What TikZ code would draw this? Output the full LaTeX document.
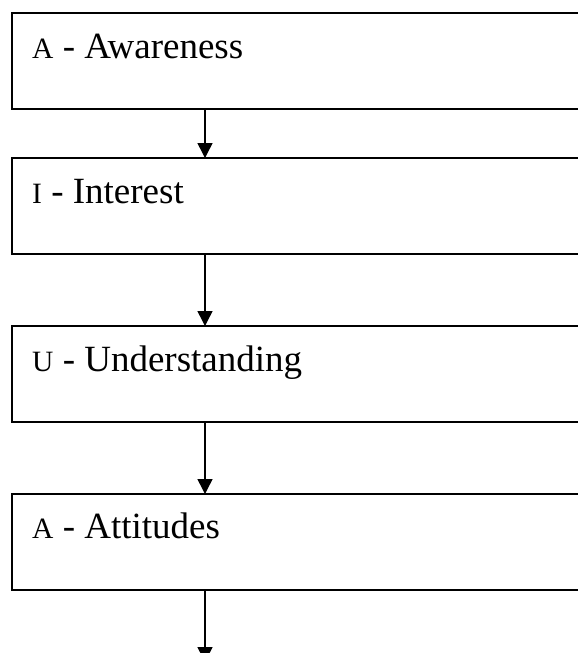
\documentclass[tikz,border=0pt]{standalone}
\usepackage{fontspec}
\setmainfont{Liberation Serif}
\usetikzlibrary{arrows.meta,calc}
\tikzset{
  stagebox/.style={draw=black, line width=2pt, rectangle, minimum width=578pt, minimum height=96pt, anchor=north west, inner sep=0pt, outer sep=0pt},
  stagetext/.style={anchor=base west, inner sep=0pt, font=\fontsize{37}{40}\selectfont},
  flow/.style={line width=1.5pt, -{Triangle[width=15pt,length=15pt]}}
}
\newcommand{\initl}[1]{{\fontsize{29.5}{32}\selectfont #1}}
\begin{document}
\begin{tikzpicture}[x=1pt,y=-1pt]
\useasboundingbox (0,0) rectangle (578,653);
\clip (0,0) rectangle (578,653);
\fill[white] (0,0) rectangle (578,653);
\node[stagebox] (b1) at (12,13) {};
\node[stagebox] (b2) at (12,158) {};
\node[stagebox] (b3) at (12,326) {};
\node[stagebox] (b4) at (12,494) {};
\node[stagetext] (t1) at ($(b1.north west)+(20,45)$) {\initl{A} - Awareness};
\node[stagetext] (t2) at ($(b2.north west)+(20,45)$) {\initl{I} - Interest};
\node[stagetext] (t3) at ($(b3.north west)+(20,45)$) {\initl{U} - Understanding};
\node[stagetext] (t4) at ($(b4.north west)+(20,44)$) {\initl{A} - Attitudes};
\coordinate (ax) at (205,0);
\coordinate (endpt) at (205,662);
\draw[flow] (ax |- b1.south) -- (ax |- b2.north);
\draw[flow] (ax |- b2.south) -- (ax |- b3.north);
\draw[flow] (ax |- b3.south) -- (ax |- b4.north);
\draw[flow] (ax |- b4.south) -- (endpt);
\end{tikzpicture}
\end{document}
